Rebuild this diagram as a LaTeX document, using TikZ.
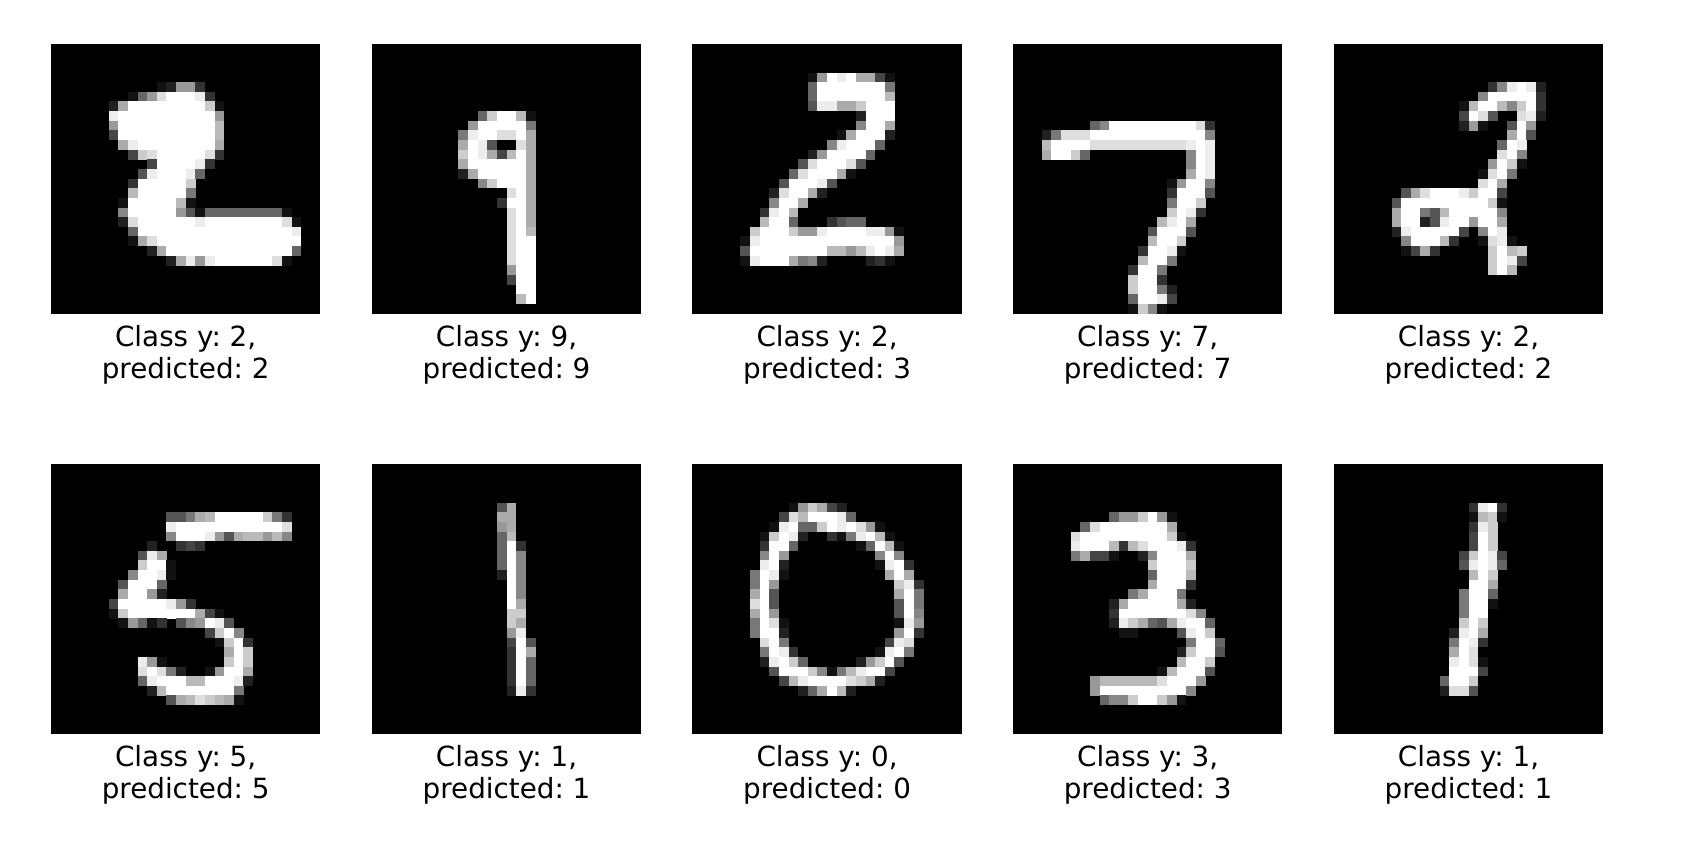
\documentclass[tikz,border=0pt]{standalone}
\usepackage{fontspec}
\setmainfont{DejaVu Sans}
\usetikzlibrary{positioning}

\newcount\cellcol
\def\cellwd{9.625}
\def\cellht{9.643}
\newcommand{\cellfill}[2]{%
  \ifx#10\else
    \edef\cellgrey{\the\numexpr"#1*100/15\relax}%
    \fill[white!\cellgrey!black] (\the\cellcol*\cellwd,#2*\cellht) rectangle ++(\cellwd+.25,\cellht+.25);
  \fi
  \advance\cellcol by 1\relax}
\def\cellscan#1{\ifx#1;\else\cellfill{#1}{\rw}\expandafter\cellscan\fi}
% rows of one panel: row/first column/grey levels 0-F
\newcommand{\digitcells}[2]{%
  \begin{scope}[shift={(#1.north west)}]
    \foreach \rw/\cl/\vals in {#2} {
      \cellcol=\cl\relax
      \expandafter\cellscan\vals;
    }
  \end{scope}}

\begin{document}
\frenchspacing
\begin{tikzpicture}[x=1pt,y=-1pt,
    panel/.style={fill=black,minimum width=269.5pt,minimum height=270pt,inner sep=0pt,outer sep=0pt},
    digitlabel/.style={align=center,inner sep=0pt,text=black,
      font=\fontsize{27.8}{32}\selectfont}]

  \useasboundingbox (0,0) rectangle (1706,854);

  \begin{scope}[every node/.style={panel}]
    \node (p1)  at (185.65,178.6)  {};
    \node (p2)  at (506.55,178.6)  {};
    \node (p3)  at (827.1,178.6)   {};
    \node (p4)  at (1147.65,178.6) {};
    \node (p5)  at (1468.55,178.6) {};
    \node (p6)  at (185.65,599)    {};
    \node (p7)  at (506.55,599)    {};
    \node (p8)  at (827.1,599)     {};
    \node (p9)  at (1147.65,599)   {};
    \node (p10) at (1468.55,599)   {};
  \end{scope}

  \begin{scope}[every node/.style={digitlabel}]
    \node (t1)  [below=12pt of p1]  {Class y: 2,\\predicted: 2};
    \node (t2)  [below=12pt of p2]  {Class y: 9,\\predicted: 9};
    \node (t3)  [below=12pt of p3]  {Class y: 2,\\predicted: 3};
    \node (t4)  [below=12pt of p4]  {Class y: 7,\\predicted: 7};
    \node (t5)  [below=12pt of p5]  {Class y: 2,\\predicted: 2};
    \node (t6)  [below=11pt of p6]  {Class y: 5,\\predicted: 5};
    \node (t7)  [below=11pt of p7]  {Class y: 1,\\predicted: 1};
    \node (t8)  [below=11pt of p8]  {Class y: 0,\\predicted: 0};
    \node (t9)  [below=11pt of p9]  {Class y: 3,\\predicted: 3};
    \node (t10) [below=11pt of p10] {Class y: 1,\\predicted: 1};
  \end{scope}

  \digitcells{p1}{4/11/12993,5/8/169DFFFE3,6/6/2AFFFFFFFFC1,7/6/EFFFFFFFFFF9,
    8/6/9FFFFFFFFFFB,9/6/4FFFFFFFFFFB,10/7/AEFFFFFFFFA,11/8/4CDFFFFFD3,
    12/10/4FFFFE3,13/9/5EFFFE6,14/8/3FFFFFC,15/8/BFFFFF7,16/7/1FFFFFB1,
    17/7/8FFFFF951666666661,18/7/2DFFFFFFEFFFFFFFFD1,19/8/6FFFFFFFFFFFFFFFFE,
    20/8/1ADFFFFFFFFFFFFFFF,21/10/2AFFFFFFFFFFFFF6,22/12/2AE9EFFFFFFD1}

  \digitcells{p2}{7/11/6CFFB1,8/10/9FFFFF7,9/9/7EFFDDFA,10/9/AFE500DA,11/9/CFEA4BFA,
    12/9/AFFFFFFA,13/9/2AFFFFFA,14/11/8CFFFA,15/14/DFA,16/13/3FFA,17/14/DFA,
    18/14/DFA,19/14/DFB,20/14/DFF,21/14/DFF,22/14/DFF,23/14/9FF,24/14/4FF,
    25/15/FF,26/15/BF}

  \digitcells{p3}{3/12/19FEFAA41,4/12/6FFFFFFF7,5/12/6FFFFFFFB,6/12/5EEAACFFF,7/17/2FFF,
    8/17/8FFA,9/15/1AFFF2,10/14/8EFFF6,11/12/29FFFF6,12/11/5DFFFD5,13/10/6DFFFA1,
    14/9/5FFFE5,15/8/2DFFA2,16/8/8FFA,17/7/3EFB,18/7/BFF6,18/14/3566,
    19/6/CFFFC99EFFFFEE91,20/5/1EFFFFFFFFFFFFFF9,21/5/5FFFFFFFFBB9BEFEA,
    22/5/1EFFFA782,22/18/231}

  \digitcells{p4}{8/8/68FFFFFFFFFD3,9/3/27DDDFFFFFFFFFFFF8,10/3/BFFFFDDDDDDDDDDEFE,
    11/3/AFFC6,11/18/8FE,12/18/8FE,13/18/AFE,14/16/19FF8,15/16/3FFF5,16/16/7FFC,
    17/16/CFE3,18/15/BEFA,19/14/5FFF5,20/14/BFFC,21/13/3FFE1,22/13/BFF7,23/12/3FF7,
    24/12/CFF3,25/12/CFF72,26/12/6FFE4,27/12/1C81}

  \digitcells{p5}{4/16/38EFE2,5/15/8FFFFF3,6/13/1BFFB8CF3,7/13/4FD5,7/19/DE2,8/13/291,
    8/18/5F9,9/18/AF5,10/17/6FE,11/17/DF8,12/16/9FC1,13/15/1DF7,14/15/DFA,
    15/7/5ADFFFECFF4,16/6/5FFFFFFFFFC1,17/6/AFF75BFFFFF8,18/6/AFF25EFF9FFA,
    19/6/2EFFFFF408FE,20/7/8FFFB3,20/15/1DE1,21/7/14A3,21/16/CFBC,22/16/CFE4,
    23/16/CFB}

  \digitcells{p6}{5/12/557ABFFFFFC73,6/12/EFFFFFFFFFFFD,7/12/8FFFE95ABB9B8,8/10/2,8/13/343,
    9/9/5EA,10/9/CFF1,11/8/8FFE1,12/7/5FFF6,13/7/AFF92,14/6/4FFFFFE93,
    15/6/1CFFFFFFFA41,16/7/196130589FE5,17/16/4CF8,18/17/1CF3,19/18/AFC,
    20/9/E91,20/18/CFC,21/9/DFD72,21/16/19FFA,22/9/6EFFFBBFFFE2,
    23/10/2BFFFFFFF7,24/12/5ABDCBA1}

  \digitcells{p7}{4/13/5A,5/13/AA,6/13/9A,7/13/6B,8/13/6F3,9/13/6F8,10/13/6F8,11/13/2F8,
    12/14/F8,13/14/F8,14/14/FA,15/14/CC,16/14/CA,17/14/9E,18/14/4F5,19/14/3FA,
    20/14/3F6,21/14/3F6,22/14/3F6,23/14/2E3}

  \digitcells{p8}{4/10/19CA42,5/9/4DBFFFE6,6/8/1EF66CFEFD91,7/7/1CFE2,7/14/317EFB1,
    8/7/3FF6,8/17/16FB1,9/7/8F9,9/19/8F8,10/7/EF2,10/19/1EF3,11/6/7FE1,11/20/AFA,
    12/6/7F9,12/21/CE3,13/6/AF5,13/21/AF7,14/6/DF5,14/21/5F7,15/6/AF9,15/21/5F8,
    16/6/7FD1,16/21/1E9,17/6/7FF2,17/21/9F3,18/7/DF7,18/20/4ED,19/7/7FE3,19/19/1EF7,
    20/7/2EFC6,20/17/29CF5,21/8/5FFFC817BEFF4,22/9/4BEFFFFDCA2,23/11/26AFB2}

  \digitcells{p9}{5/10/699CF91,6/7/6DFFFFFFFA,7/6/DFFFFFFFFFC1,8/6/EFFFB3BDFFFE3,
    9/6/7A441,9/13/28FFFA,10/14/CFFFC,11/14/6FFFB,12/14/AFFF3,13/12/7AFFF7,
    14/10/2AFFFFFA2,15/10/3FFFFFFFD8,16/10/2ECA65AEFF6,17/11/11,17/17/5EFC,
    18/18/7FF6,19/17/2CFF5,20/17/BFFC,21/15/1BFFF5,22/8/9BBBBBBDFFF9,
    23/8/9FFFFFFFFF8,24/9/688CFFC91}

  \digitcells{p10}{4/14/3EF3,5/14/1BC1,6/14/3EC,7/14/4FC,8/14/4FC,9/13/4CFE4,10/13/5EFE6,
    11/14/BFC,12/14/FFA,13/13/7FF6,14/13/7FF1,15/13/7FF,16/13/CFC,17/12/2EFA,
    18/12/7FE3,19/12/AFD,20/12/EFD1,21/12/FFF4,22/11/6FFC,23/11/2DD5}

\end{tikzpicture}
\end{document}
